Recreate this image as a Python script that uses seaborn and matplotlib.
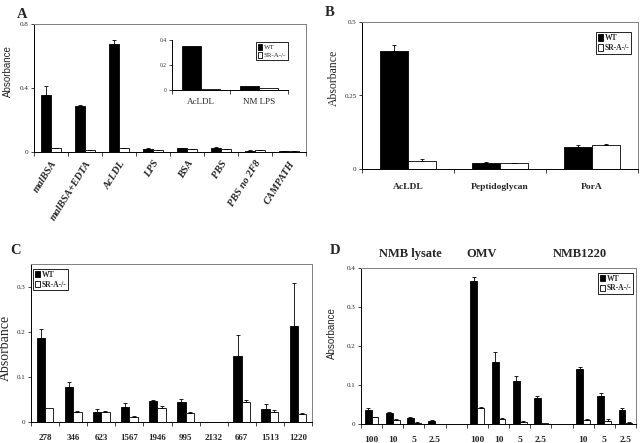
import matplotlib
matplotlib.use('Agg')
import numpy as np
import pandas as pd
import matplotlib.pyplot as plt
import seaborn as sns
from matplotlib.patches import Patch

sns.set_style('ticks')
plt.rcParams['font.family'] = ['Liberation Serif', 'DejaVu Serif']

SERIF = ['Liberation Serif', 'DejaVu Serif']
SANS = ['Liberation Sans', 'DejaVu Sans']
groups = ['WT', 'SR-A-/-']
colors = {'WT': 'black', 'SR-A-/-': 'white'}

# ---- data ----
# panel A
a_cats = ['malBSA', 'malBSA+EDTA', 'AcLDL', 'LPS', 'BSA', 'PBS', 'PBS no 2F8', 'CAMPATH']
a_wt = [0.355, 0.290, 0.675, 0.020, 0.025, 0.025, 0.008, 0.008]
a_wt_err = [0.060, 0.006, 0.025, 0.002, 0.003, 0.004, 0.002, 0.001]
a_sr = [0.022, 0.010, 0.022, 0.012, 0.017, 0.017, 0.013, 0.005]
a_sr_err = [0.002, 0.001, 0.004, 0.001, 0.002, 0.002, 0.001, 0.001]
# panel A inset
inset_cats = ['AcLDL', 'NM LPS']
inset_wt = [0.350, 0.033]
inset_sr = [0.006, 0.020]
# panel B
b_cats = ['AcLDL', 'Peptidoglycan', 'PorA']
b_wt = [0.400, 0.022, 0.075]
b_wt_err = [0.022, 0.002, 0.007]
b_sr = [0.028, 0.020, 0.080]
b_sr_err = [0.005, 0.001, 0.005]
# panel C
c_cats = ['278', '346', '623', '1567', '1946', '995', '2132', '667', '1513', '1220']
c_wt = [0.185, 0.078, 0.022, 0.034, 0.046, 0.045, 0.001, 0.147, 0.029, 0.213]
c_wt_err = [0.020, 0.010, 0.006, 0.008, 0.003, 0.005, 0.000, 0.045, 0.011, 0.095]
c_sr = [0.032, 0.023, 0.022, 0.010, 0.030, 0.021, 0.001, 0.044, 0.023, 0.017]
c_sr_err = [0.000, 0.002, 0.002, 0.003, 0.005, 0.001, 0.000, 0.004, 0.003, 0.002]
# panel D (gaps separate the three antigen series)
d_order = ['L100', 'L10', 'L5', 'L2.5', 'gap1', 'O100', 'O10', 'O5', 'O2.5', 'gap2', 'N10', 'N5', 'N2.5']
d_labels = ['100', '10', '5', '2.5', '', '100', '10', '5', '2.5', '', '10', '5', '2.5']
d_cats = ['L100', 'L10', 'L5', 'L2.5', 'O100', 'O10', 'O5', 'O2.5', 'N10', 'N5', 'N2.5']
d_wt = [0.036, 0.029, 0.016, 0.008, 0.367, 0.160, 0.109, 0.067, 0.140, 0.073, 0.036]
d_wt_err = [0.004, 0.003, 0.003, 0.003, 0.010, 0.025, 0.014, 0.006, 0.005, 0.006, 0.004]
d_sr = [0.017, 0.010, 0.003, 0.001, 0.040, 0.012, 0.005, 0.003, 0.010, 0.007, 0.003]
d_sr_err = [0.002, 0.002, 0.001, 0.000, 0.003, 0.003, 0.003, 0.000, 0.004, 0.005, 0.002]
d_titles = ['NMB lysate', 'OMV', 'NMB1220']


def to_frame(cats, wt, sr):
    return pd.DataFrame({
        'cat': list(cats) * 2,
        'val': list(wt) + list(sr),
        'grp': ['WT'] * len(cats) + ['SR-A-/-'] * len(cats),
    })


def bars(ax, cats, wt, sr, order=None, width=0.6):
    df = to_frame(cats, wt, sr)
    sns.barplot(data=df, x='cat', y='val', hue='grp', order=order or list(cats),
                hue_order=groups, palette=colors, edgecolor='black', linewidth=0.6,
                errorbar=None, width=width, ax=ax, legend=False)


def err_bars(ax, order, cats, errs_wt, errs_sr):
    lookup = [dict(zip(cats, errs_wt)), dict(zip(cats, errs_sr))]
    for cont, errs in zip(ax.containers, lookup):
        for b in cont:
            h = b.get_height()
            if np.isnan(h):
                continue
            xc = b.get_x() + b.get_width() / 2
            key = order[int(round(xc))]
            e = errs.get(key, 0)
            if e > 0:
                ax.errorbar(xc, h, yerr=[[0], [e]], fmt='none', ecolor='black',
                            elinewidth=0.6, capsize=1.5, capthick=0.6)


def style(ax, n, ymax, yticks, ylabels, tick_size=5):
    ax.set_xlim(-0.5, n - 0.5)
    ax.set_ylim(0, ymax)
    ax.set_yticks(yticks)
    ax.set_yticklabels(ylabels, fontsize=tick_size, family=SERIF)
    ax.set_xticks(np.arange(-0.5, n, 1.0), minor=True)
    ax.tick_params(axis='x', which='major', length=0)
    ax.tick_params(axis='x', which='minor', length=3, width=0.6, direction='out')
    ax.tick_params(axis='y', length=2, width=0.6, pad=2)
    for s in ['left', 'bottom']:
        ax.spines[s].set_color('black')
        ax.spines[s].set_linewidth(0.7)
    for s in ['top', 'right']:
        ax.spines[s].set_visible(True)
        ax.spines[s].set_color('#808080')
        ax.spines[s].set_linewidth(0.7)
    ax.set_xlabel('')


def legend(ax, loc, anchor, size=5.5, bold=True):
    h = [Patch(facecolor=colors[g], edgecolor='black', linewidth=0.6) for g in groups]
    leg = ax.legend(h, groups, loc=loc, bbox_to_anchor=anchor,
                    handlelength=0.7, handleheight=0.9, handletextpad=0.2,
                    borderpad=0.25, labelspacing=0.25, borderaxespad=0,
                    fancybox=False, framealpha=1,
                    prop={'family': SERIF, 'size': size, 'weight': 'bold' if bold else 'normal'})
    leg.get_frame().set_edgecolor('black')
    leg.get_frame().set_linewidth(0.6)


fig = plt.figure(figsize=(6.4, 4.43), dpi=100)
W, H = 640, 443


def px_axes(x0, x1, y0, y1):
    return fig.add_axes([x0 / W, 1 - y1 / H, (x1 - x0) / W, (y1 - y0) / H])


# ---- panel A ----
axA = px_axes(34, 306, 24, 152)
bars(axA, a_cats, a_wt, a_sr)
err_bars(axA, a_cats, a_cats, a_wt_err, a_sr_err)
style(axA, len(a_cats), 0.8, [0, 0.4, 0.8], ['0', '0.4', '0.8'])
axA.set_xticks(range(len(a_cats)))
axA.set_xticklabels(a_cats, rotation=58, ha='right', rotation_mode='anchor',
                    fontsize=7.5, fontweight='bold', fontstyle='italic', family=SERIF)
axA.tick_params(axis='x', which='major', pad=5)
axA.set_ylabel('Absorbance', fontsize=7, family=SANS)
axA.yaxis.set_label_coords(-0.078, 0.63)

# inset
axI = px_axes(172, 288, 40, 90)
bars(axI, inset_cats, inset_wt, inset_sr, width=0.66)
style(axI, 2, 0.4, [0, 0.2, 0.4], ['0', '0.2', '0.4'], tick_size=4)
axI.spines['top'].set_visible(False)
axI.spines['right'].set_visible(False)
axI.set_xticks(range(2))
axI.set_xticklabels(inset_cats, fontsize=6.5, family=SERIF)
axI.tick_params(axis='x', which='major', pad=6)
axI.set_ylabel('')
legend(axI, 'upper right', (1.0, 0.96), size=5, bold=False)

# ---- panel B ----
axB = px_axes(362, 638, 22, 169)
bars(axB, b_cats, b_wt, b_sr)
err_bars(axB, b_cats, b_cats, b_wt_err, b_sr_err)
style(axB, len(b_cats), 0.5, [0, 0.25, 0.5], ['0', '0.25', '0.5'])
axB.set_xticks(range(len(b_cats)))
axB.set_xticklabels(b_cats, fontsize=6.8, fontweight='bold', family=SERIF)
axB.tick_params(axis='x', which='major', pad=10)
axB.set_ylabel('Absorbance', fontsize=8.5, family=SERIF)
axB.yaxis.set_label_coords(-0.08, 0.62)
legend(axB, 'upper right', (0.975, 0.93))

# ---- panel C ----
axC = px_axes(31, 312, 264, 422)
bars(axC, c_cats, c_wt, c_sr)
err_bars(axC, c_cats, c_cats, c_wt_err, c_sr_err)
style(axC, len(c_cats), 0.35, [0, 0.1, 0.2, 0.3], ['0', '0.1', '0.2', '0.3'])
axC.set_xticks(range(len(c_cats)))
axC.set_xticklabels(c_cats, fontsize=6.5, fontweight='bold', family=SERIF)
axC.tick_params(axis='x', which='major', pad=9)
axC.set_ylabel('Absorbance', fontsize=10, family=SERIF)
axC.yaxis.set_label_coords(-0.068, 0.47)
legend(axC, 'upper left', (0.007, 0.97))

# ---- panel D ----
axD = px_axes(361, 636, 268, 424)
bars(axD, d_cats, d_wt, d_sr, order=d_order, width=0.65)
err_bars(axD, d_order, d_cats, d_wt_err, d_sr_err)
style(axD, len(d_order), 0.4, [0, 0.1, 0.2, 0.3, 0.4], ['0', '0.1', '0.2', '0.3', '0.4'])
axD.set_xticks(range(len(d_order)))
axD.set_xticklabels(d_labels, fontsize=6.8, fontweight='bold', family=SERIF)
axD.tick_params(axis='x', which='major', pad=9)
axD.set_ylabel('Absorbance', fontsize=7, family=SANS)
axD.yaxis.set_label_coords(-0.087, 0.58)
legend(axD, 'upper right', (0.99, 0.97))

# group titles above panel D
for title, (xp, yp) in zip(d_titles, [(410, 254), (482, 254), (580, 254)]):
    fig.text(xp / W, 1 - yp / H, title, ha='center', va='center',
             fontsize=9, fontweight='bold', family=SERIF)

# panel letters
for letter, (xp, yp) in zip('ABCD', [(22, 14), (330, 12), (16, 250), (335, 250)]):
    fig.text(xp / W, 1 - yp / H, letter, ha='center', va='center',
             fontsize=10.5, fontweight='bold', family=SERIF)

fig.savefig('out.png', dpi=100)
